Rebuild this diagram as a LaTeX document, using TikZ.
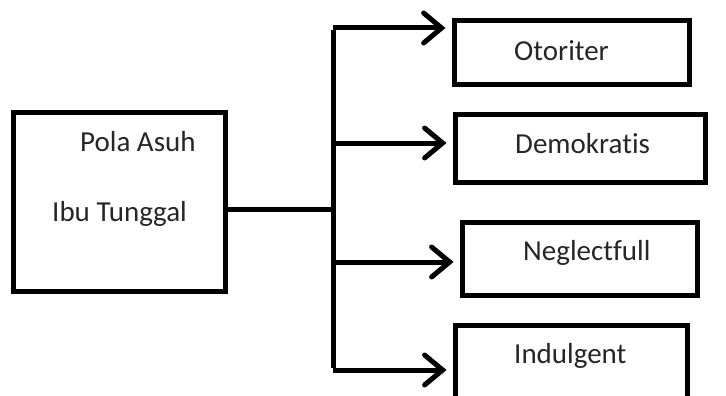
\documentclass[tikz,border=0pt]{standalone}
\usepackage{fontspec}
\setmainfont[Ligatures={NoCommon,NoContextual,NoRare}]{Carlito}
\usetikzlibrary{arrows.meta}
\begin{document}
\begin{tikzpicture}[x=1pt,y=-1pt,
  box/.style={draw=black, line width=5pt, rectangle, inner sep=0pt, outer sep=0pt},
  lbl/.style={anchor=base west, inner sep=0pt, text=black!85, font=\fontsize{29}{35}\selectfont},
  conn/.style={draw=black, line width=5pt},
  arr/.style={conn, -{Straight Barb[length=18pt,width=30pt,line cap=round]}, shorten >=9pt}]
\useasboundingbox (0,0) rectangle (726,396);
\clip (0,0) rectangle (726,396);
% boxes
\node[box, minimum width=212pt, minimum height=179pt] (L) at (119.5,202) {};
\node[box, minimum width=235pt, minimum height=64pt] (O) at (572,52.5) {};
\node[box, minimum width=250pt, minimum height=68pt] (D) at (580.5,148.5) {};
\node[box, minimum width=235pt, minimum height=73pt] (N) at (580,259) {};
\node[box, minimum width=232pt, minimum height=92pt] (I) at (571.5,371.5) {};
% labels
\node[lbl] (l1) at (80,151) {Pola Asuh};
\node[lbl] (l2) at (52,221) {Ibu Tunggal};
\node[lbl] (tO) at (514,61) {Otoriter};
\node[lbl] (tD) at (515,153) {Demokratis};
\node[lbl] (tN) at (523,260) {Neglectfull};
\node[lbl] (tI) at (514,363) {Indulgent};
% connectors
\coordinate (j) at (333,209);
\coordinate (t1) at (333,28);
\coordinate (t2) at (333,143);
\coordinate (t3) at (333,262);
\coordinate (t4) at (333,370);
\draw[conn] (L.east |- j) -- (j);
\draw[conn] ([yshift=-2.5pt]t1) -- ([yshift=2.5pt]t4);
\draw[arr] (t1) -- (t1 -| O.west);
\draw[arr] (t2) -- (t2 -| D.west);
\draw[arr] (t3) -- (t3 -| N.west);
\draw[arr] (t4) -- (t4 -| I.west);
\end{tikzpicture}
\end{document}
